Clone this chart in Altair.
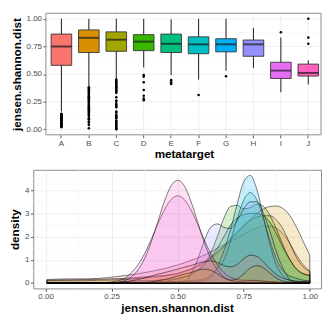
import altair as alt
import pandas as pd

# ---------------- data: boxplot ----------------
GROUPS = ["A", "B", "C", "D", "E", "F", "G", "H", "I", "J"]
COLORS = ["#F8766D", "#D89000", "#A3A500", "#39B600", "#00BF7D",
          "#00BFC4", "#00B0F6", "#9590FF", "#E76BF3", "#FF62BC"]
W_LO = [0.16, 0.39, 0.45, 0.56, 0.49, 0.45, 0.53, 0.555, 0.335, 0.405]
Q1 = [0.579, 0.695, 0.706, 0.712, 0.695, 0.684, 0.701, 0.661, 0.46, 0.482]
MED = [0.749, 0.828, 0.811, 0.794, 0.774, 0.769, 0.769, 0.769, 0.531, 0.51]
Q3 = [0.862, 0.90, 0.882, 0.857, 0.862, 0.837, 0.82, 0.808, 0.607, 0.59]
W_HI = [1.0, 1.0, 1.0, 1.0, 0.995, 1.0, 1.0, 0.917, 0.831, 0.624]

OUT_A = [0.02, 0.025, 0.03, 0.04, 0.045, 0.05, 0.055, 0.06, 0.07, 0.075, 0.08,
         0.085, 0.09, 0.095, 0.10, 0.105, 0.11, 0.115, 0.12, 0.125, 0.13, 0.135, 0.14]
OUT_B = [0.01, 0.04, 0.06, 0.07, 0.09, 0.10, 0.12, 0.13, 0.14, 0.15, 0.16, 0.17,
         0.18, 0.19, 0.20, 0.21, 0.22, 0.23, 0.24, 0.25, 0.26, 0.27, 0.28, 0.29,
         0.30, 0.31, 0.32, 0.33, 0.34, 0.35, 0.36, 0.37, 0.38]
OUT_C = [0.0, 0.01, 0.02, 0.03, 0.04, 0.05, 0.06, 0.07, 0.08, 0.10, 0.11, 0.12,
         0.13, 0.15, 0.16, 0.20, 0.21, 0.22, 0.23, 0.25, 0.26, 0.29, 0.33, 0.34,
         0.35, 0.36, 0.37, 0.38, 0.39, 0.40, 0.41, 0.42, 0.43, 0.44, 0.45]
OUT_D = [0.491, 0.477, 0.426, 0.355, 0.303, 0.278, 0.264]
OUT_E = [0.445, 0.426, 0.411]
OUT_F = [0.31]
OUT_G = [0.48]
OUT_I = [0.879]
OUT_J = [1.0, 0.83, 0.775]

TOP_Y_MAJOR = [0.0, 0.25, 0.5, 0.75, 1.0]
TOP_Y_MINOR = [0.125, 0.375, 0.625, 0.875]

# ---------------- data: density ----------------
DENS_X = [0.005, 0.05, 0.1, 0.15, 0.2, 0.25,
          0.3, 0.325, 0.35, 0.375, 0.4, 0.425, 0.45, 0.475, 0.5, 0.525, 0.55,
          0.575, 0.6, 0.625, 0.65, 0.675, 0.7, 0.725, 0.75, 0.775, 0.8, 0.825,
          0.85, 0.875, 0.9, 0.925, 0.95, 0.975, 1.0]
DENS_A = [0.15, 0.17, 0.18, 0.18, 0.2, 0.25,
          0.32, 0.36, 0.4, 0.45, 0.5, 0.56, 0.62, 0.7, 0.78, 0.87, 0.97, 1.08,
          1.2, 1.35, 1.5, 1.65, 1.8, 1.95, 2.1, 2.25, 2.38, 2.45, 2.45, 2.35,
          2.1, 1.7, 1.2, 0.8, 0.5]
DENS_B = [0.12, 0.13, 0.14, 0.15, 0.16, 0.18,
          0.2, 0.22, 0.24, 0.26, 0.28, 0.3, 0.33, 0.37, 0.42, 0.5, 0.6, 0.72,
          0.88, 1.05, 1.3, 1.55, 1.85, 2.15, 2.45, 2.75, 3.0, 3.2, 3.3, 3.32,
          3.2, 2.9, 2.4, 1.8, 1.2]
DENS_C = [0.1, 0.1, 0.1, 0.1, 0.12, 0.13,
          0.15, 0.17, 0.2, 0.22, 0.25, 0.27, 0.3, 0.35, 0.4, 0.5, 0.6, 0.75,
          0.9, 1.1, 1.35, 1.6, 1.9, 2.2, 2.5, 2.7, 2.85, 2.9, 2.9, 2.7,
          2.3, 1.7, 1.1, 0.7, 0.5]
DENS_D = [0, 0, 0, 0, 0, 0,
          0.06, 0.08, 0.1, 0.1, 0.1, 0.12, 0.14, 0.17, 0.2, 0.26, 0.35, 0.55,
          0.8, 1.3, 2.0, 2.8, 3.3, 3.35, 3.2, 3.25, 3.4, 3.3, 2.9, 2.3,
          1.6, 1.0, 0.6, 0.4, 0.35]
DENS_E = [0, 0, 0, 0, 0, 0,
          0, 0, 0, 0, 0.04, 0.06, 0.08, 0.12, 0.18, 0.26, 0.38, 0.55,
          0.8, 1.1, 1.5, 2.0, 2.5, 2.8, 2.95, 3.0, 3.0, 2.9, 2.6, 2.1,
          1.5, 1.0, 0.6, 0.4, 0.3]
DENS_F = [0, 0, 0, 0, 0, 0,
          0.03, 0.04, 0.04, 0.04, 0.04, 0.05, 0.05, 0.06, 0.07, 0.08, 0.1, 0.12,
          0.18, 0.32, 0.6, 1.0, 1.8, 2.76, 3.58, 3.9, 3.58, 2.76, 1.8, 1.0,
          0.5, 0.3, 0.2, 0.12, 0.1]
DENS_G = [0, 0, 0, 0, 0, 0,
          0, 0, 0, 0, 0, 0, 0, 0.04, 0.05, 0.05, 0.06, 0.06,
          0.1, 0.25, 0.7, 1.4, 2.3, 3.4, 4.36, 4.64, 4.02, 2.83, 1.62, 0.75,
          0.3, 0.12, 0.06, 0.04, 0.03]
DENS_H = [0, 0, 0, 0, 0, 0,
          0, 0, 0, 0, 0, 0, 0, 0, 0, 0, 0.4, 1.0,
          1.8, 2.4, 2.55, 2.4, 2.35, 2.7, 3.2, 3.5, 3.5, 3.0, 2.2, 1.3,
          0.6, 0.15, 0, 0, 0]
DENS_I = [0, 0, 0, 0, 0, 0.05,
          0.2, 0.45, 0.79, 1.27, 1.88, 2.55, 3.16, 3.6, 3.76, 3.6, 3.16, 2.55,
          1.88, 1.27, 0.79, 0.45, 0.24, 0.15, 0.12, 0.12, 0.1, 0.08, 0.06, 0.04,
          0, 0, 0, 0, 0]
DENS_J = [0, 0, 0, 0, 0, 0,
          0.11, 0.27, 0.57, 1.06, 1.78, 2.65, 3.53, 4.19, 4.43, 4.19, 3.53, 2.65,
          1.78, 1.06, 0.57, 0.27, 0.12, 0.07, 0.08, 0.1, 0.1, 0.08, 0.05, 0.03,
          0.03, 0.03, 0.04, 0.05, 0.05]
DENS_K = [0, 0, 0, 0, 0, 0.02,
          0.05, 0.1, 0.15, 0.22, 0.3, 0.38, 0.45, 0.52, 0.6, 0.68, 0.75, 0.85,
          0.92, 0.95, 0.88, 0.75, 0.7, 0.8, 1.05, 1.2, 1.15, 0.9, 0.6, 0.35,
          0.2, 0.12, 0.08, 0.06, 0.05]
DENS_L = [0, 0, 0, 0, 0, 0,
          0, 0, 0, 0.02, 0.05, 0.1, 0.15, 0.22, 0.3, 0.38, 0.45, 0.55,
          0.6, 0.55, 0.4, 0.22, 0.12, 0.18, 0.4, 0.65, 0.75, 0.65, 0.42, 0.2,
          0.08, 0.03, 0.02, 0.01, 0.01]
DENS_GROUPS = ["A", "B", "C", "D", "E", "F", "G", "H", "I", "J", "K", "L"]
DENS_COLORS = COLORS + ["#8C8C8C", "#7A7490"]

BOT_X_MAJOR = [0.0, 0.25, 0.5, 0.75, 1.0]
BOT_X_MINOR = [0.125, 0.375, 0.625, 0.875]
BOT_Y_MAJOR = [0, 1, 2, 3, 4]
BOT_Y_MINOR = [0.5, 1.5, 2.5, 3.5, 4.5]

# ---------------- build tables ----------------
box_df = pd.DataFrame({"metatarget": GROUPS, "lo": W_LO, "q1": Q1, "med": MED,
                       "q3": Q3, "hi": W_HI})
out_rows = []
for g, lst in [("A", OUT_A), ("B", OUT_B), ("C", OUT_C), ("D", OUT_D), ("E", OUT_E),
               ("F", OUT_F), ("G", OUT_G), ("I", OUT_I), ("J", OUT_J)]:
    for v in lst:
        out_rows.append({"metatarget": g, "v": v})
out_df = pd.DataFrame(out_rows)

dens_lists = [DENS_A, DENS_B, DENS_C, DENS_D, DENS_E, DENS_F,
              DENS_G, DENS_H, DENS_I, DENS_J, DENS_K, DENS_L]
dens_rows = []
for g, lst in zip(DENS_GROUPS, dens_lists):
    for xv, dv in zip(DENS_X, lst):
        dens_rows.append({"grp": g, "x": xv, "d": dv})
dens_df = pd.DataFrame(dens_rows)

LABEL_COLOR = "#4D4D4D"
BORDER = "#8a8a8a"
GRID_MAJOR = "#EBEBEB"
GRID_MINOR = "#F4F4F4"

# ---------------- top: boxplot ----------------
TOP_W, TOP_H = 296, 125
PANEL_INSET = 13
xs = alt.Scale(domain=GROUPS, paddingInner=0.25, paddingOuter=0.37, align=0.88)
ys = alt.Scale(domain=[-0.05, 1.05], nice=False, zero=False)
YT = "jensen.shannon.dist"

x_axis = alt.Axis(title="metatarget", labelAngle=0, grid=True, bandPosition=0.5,
                  labelColor=LABEL_COLOR, titleX=155, titlePadding=3)
y_axis = alt.Axis(title=YT, values=TOP_Y_MAJOR, format=".2f", grid=False,
                  labelColor=LABEL_COLOR, titlePadding=3, offset=-PANEL_INSET)


def tx():
    return alt.X("metatarget:N", scale=xs, axis=x_axis)


def ty(field):
    return alt.Y(field, scale=ys, axis=y_axis)


top_minor = alt.Chart(pd.DataFrame({"v": TOP_Y_MINOR})).mark_rule(
    color=GRID_MINOR, strokeWidth=0.6
).encode(y=ty("v:Q"), x=alt.value(PANEL_INSET), x2=alt.value(TOP_W))
top_major = alt.Chart(pd.DataFrame({"v": TOP_Y_MAJOR})).mark_rule(
    color=GRID_MAJOR, strokeWidth=0.8
).encode(y=ty("v:Q"), x=alt.value(PANEL_INSET), x2=alt.value(TOP_W))

whisk = alt.Chart(box_df).mark_rule(color="#1a1a1a", strokeWidth=1).encode(
    x=tx(), y=ty("lo:Q"), y2="hi:Q",
)
outs = alt.Chart(out_df).mark_circle(size=7, color="black", opacity=1).encode(
    x=tx(), y=ty("v:Q"),
)
boxes = alt.Chart(box_df).mark_bar(stroke="#333333", strokeWidth=0.9).encode(
    x=tx(), y=ty("q1:Q"), y2="q3:Q",
    fill=alt.Fill("metatarget:N", scale=alt.Scale(domain=GROUPS, range=COLORS), legend=None),
)
meds = alt.Chart(box_df).mark_tick(color="#1a1a1a", thickness=2, size=21).encode(
    x=tx(), y=ty("med:Q"),
)
top_border = alt.Chart(pd.DataFrame({"k": [0]})).mark_rect(
    fill="transparent", stroke=BORDER, strokeWidth=1
).encode(x=alt.value(PANEL_INSET), x2=alt.value(TOP_W),
         y=alt.value(0), y2=alt.value(TOP_H))

top = alt.layer(top_minor, top_major, whisk, outs, boxes, meds, top_border).properties(
    width=TOP_W, height=TOP_H, view=alt.ViewBackground(stroke=None)
)

# ---------------- bottom: density ----------------
BOT_W, BOT_H = 296, 122
bxs = alt.Scale(domain=[-0.0466, 1.0426], nice=False, zero=False)
bys = alt.Scale(domain=[-0.233, 4.88], nice=False, zero=False)
XT = "jensen.shannon.dist"
bx_axis = alt.Axis(title=XT, values=BOT_X_MAJOR, format=".2f", grid=True,
                   labelColor=LABEL_COLOR, titlePadding=3)
by_axis = alt.Axis(title="density", values=BOT_Y_MAJOR, format="d", grid=True,
                   labelColor=LABEL_COLOR, titlePadding=3)

bx_minor = alt.Chart(pd.DataFrame({"v": BOT_X_MINOR})).mark_rule(
    color=GRID_MINOR, strokeWidth=0.6
).encode(x=alt.X("v:Q", scale=bxs, axis=bx_axis))
by_minor = alt.Chart(pd.DataFrame({"v": BOT_Y_MINOR})).mark_rule(
    color=GRID_MINOR, strokeWidth=0.6
).encode(y=alt.Y("v:Q", scale=bys, axis=by_axis))

areas = alt.Chart(dens_df).mark_area(
    interpolate="monotone", fillOpacity=0.2, stroke="black",
    strokeWidth=0.6, strokeOpacity=0.85
).encode(
    x=alt.X("x:Q", scale=bxs, axis=bx_axis),
    y=alt.Y("d:Q", scale=bys, stack=None, axis=by_axis),
    y2=alt.datum(0),
    fill=alt.Fill("grp:N", scale=alt.Scale(domain=DENS_GROUPS, range=DENS_COLORS), legend=None),
    detail="grp:N",
)
bottom = alt.layer(bx_minor, by_minor, areas).properties(width=BOT_W, height=BOT_H)

chart = alt.ConcatChart(
    concat=[top, bottom], columns=1, spacing=9
).properties(
    padding={"left": 0, "top": 0, "right": 0, "bottom": 0}
).configure(
    font="Liberation Sans"
).configure_view(
    stroke=BORDER, strokeWidth=1
).configure_axis(
    domain=False, gridColor=GRID_MAJOR, gridWidth=0.8,
    tickColor="#333333", tickSize=3, tickWidth=0.8,
    labelColor=LABEL_COLOR, labelFontSize=8.2, labelPadding=1.5,
    titleFontSize=12, titleFontWeight="bold", titleColor="#000000", titlePadding=2,
)

chart.save("out.html", embed_options={"renderer": "svg", "actions": False})
